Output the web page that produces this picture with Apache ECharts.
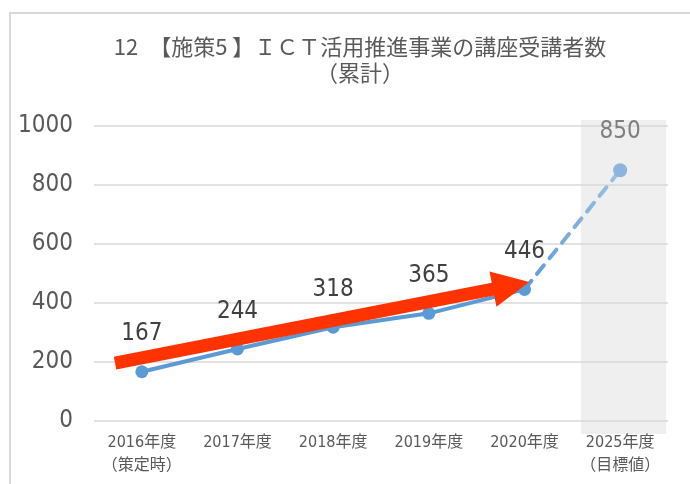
<!DOCTYPE html>
<html>
<head>
<meta charset="utf-8">
<script src="https://cdn.jsdelivr.net/npm/echarts@6/dist/echarts.min.js"></script>
<style>
html,body{margin:0;padding:0;background:#fff;}
#chart{width:690px;height:484px;}
</style>
</head>
<body>
<div id="chart"></div>
<script>
// ---- data ----
var categories = ['2016年度\n（策定時）', '2017年度', '2018年度', '2019年度', '2020年度', '2025年度\n（目標値）'];
var actualValues = [167, 244, 318, 365, 446, null];
var targetValues = [null, null, null, null, 446, 850];
var yTicks = { min: 0, max: 1000, interval: 200 };
var titleText = '12　【施策5 】ＩＣＴ活用推進事業の講座受講者数\n（累計）';
// trend arrow annotation in data units [category index, value]
var arrowFrom = [-0.28, 196];
var arrowTo = [4.05, 471];

var NUM_FONT = "'Liberation Sans Narrow', 'DejaVu Sans Condensed', 'Noto Sans CJK JP', sans-serif";
var CJK_FONT = "'Noto Sans CJK JP', sans-serif";

var chart = echarts.init(document.getElementById('chart'), null, { renderer: 'canvas' });

var targetData = targetValues.map(function (v, i) {
  if (v === null) return '-';
  if (i === targetValues.length - 1) {
    return { value: v, symbol: 'circle', symbolSize: 14, itemStyle: { color: '#8db4dc' },
      label: { show: true, color: '#7f7f7f' } };
  }
  return { value: v, symbol: 'none', label: { show: false } };
});

chart.setOption({
  backgroundColor: '#ffffff',
  title: {
    text: titleText,
    left: 355,
    top: 29,
    textAlign: 'center',
    textStyle: { fontFamily: CJK_FONT, fontSize: 22, fontWeight: 'normal', color: '#595959', lineHeight: 26, align: 'center' }
  },
  grid: { left: 94, right: 22, top: 126, bottom: 63, containLabel: false },
  xAxis: {
    type: 'category',
    data: categories,
    boundaryGap: true,
    axisLine: { show: false },
    axisTick: { show: false },
    splitLine: { show: false },
    axisLabel: { interval: 0, margin: 10, fontFamily: NUM_FONT, fontSize: 16, color: '#595959', lineHeight: 23 }
  },
  yAxis: {
    type: 'value',
    min: yTicks.min, max: yTicks.max, interval: yTicks.interval,
    z: 1,
    axisLine: { show: false },
    axisTick: { show: false },
    splitLine: { lineStyle: { color: '#d9d9d9', width: 1.5 } },
    axisLabel: { margin: 21, fontFamily: NUM_FONT, fontSize: 24, color: '#595959',
      formatter: function (v) { return String(v); } }
  },
  series: [
    {
      name: 'actual',
      type: 'line',
      data: actualValues.map(function (v) { return v === null ? '-' : v; }),
      z: 4,
      symbol: 'circle',
      symbolSize: 13,
      lineStyle: { color: '#5b9bd5', width: 4 },
      itemStyle: { color: '#5b9bd5' },
      label: { show: true, position: 'top', distance: 19, fontFamily: NUM_FONT, fontSize: 24, color: '#404040' }
    },
    {
      name: 'target',
      type: 'line',
      data: targetData,
      z: 3,
      symbol: 'circle',
      symbolSize: 14,
      lineStyle: {
        width: 4,
        type: [11, 9],
        cap: 'round',
        color: new echarts.graphic.LinearGradient(0, 0, 1, 0, [
          { offset: 0, color: '#5b9bd5' }, { offset: 1, color: '#9dc3e6' }
        ])
      },
      itemStyle: { color: '#8db4dc' },
      label: { show: false, position: 'top', distance: 19, fontFamily: NUM_FONT, fontSize: 24, color: '#7f7f7f' }
    }
  ]
});

function px(c, v) { return chart.convertToPixel({ gridIndex: 0 }, [c, v]); }

function buildGraphics() {
  var p0 = px(0, 0), p1 = px(1, 0);
  var step = p1[0] - p0[0];
  function toPix(pt) {
    var idx = pt[0] < 0 ? 0 : Math.floor(pt[0]);
    var base = px(idx, pt[1]);
    return [base[0] + (pt[0] - idx) * step, base[1]];
  }
  // highlight band for target year
  var last = categories.length - 1;
  var bTop = px(last, yTicks.max), bBot = px(last, yTicks.min);
  var band = {
    type: 'rect', z: 0, silent: true,
    shape: { x: bTop[0] - step * 0.41, y: bTop[1] - 6, width: step * 0.89, height: bBot[1] - bTop[1] + 19 },
    style: { fill: '#efefef' }
  };
  // arrow
  var a = toPix(arrowFrom), b = toPix(arrowTo);
  var dx = b[0] - a[0], dy = b[1] - a[1], L = Math.sqrt(dx * dx + dy * dy);
  var ux = dx / L, uy = dy / L, nx = -uy, ny = ux;
  var sw = 6.5, hl = 37, hw = 18;
  var bx = b[0] - ux * hl, by = b[1] - uy * hl;
  var pts = [
    [a[0] + nx * sw, a[1] + ny * sw],
    [bx + nx * sw, by + ny * sw],
    [bx + nx * hw, by + ny * hw],
    [b[0], b[1]],
    [bx - nx * hw, by - ny * hw],
    [bx - nx * sw, by - ny * sw],
    [a[0] - nx * sw, a[1] - ny * sw]
  ];
  var arrow = { type: 'polygon', z: 100, silent: true, shape: { points: pts }, style: { fill: '#ff3300' } };
  var frame = {
    type: 'rect', z: 0, silent: true,
    shape: { x: 10, y: 13, width: 720, height: 520 },
    style: { fill: null, stroke: '#d9d9d9', lineWidth: 2 }
  };
  return [frame, band, arrow];
}

chart.setOption({ graphic: buildGraphics() });
</script>
</body>
</html>
